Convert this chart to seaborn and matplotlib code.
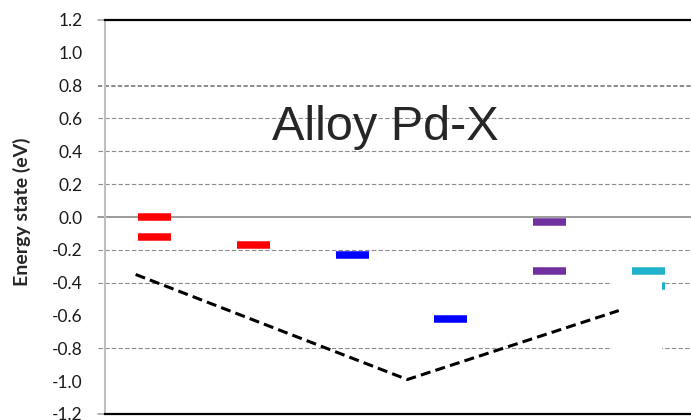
"""Energy state levels for alloy Pd-X."""

import matplotlib

matplotlib.use("Agg", force=True)

import matplotlib.pyplot as plt
import pandas as pd
import seaborn as sns
from matplotlib.patches import Rectangle

# level bars: category slot (0-based) and energy (eV)
red_slot = [0, 0, 1]
red_energy = [0.00, -0.12, -0.17]
blue_slot = [2, 3]
blue_energy = [-0.23, -0.62]
purple_slot = [4, 4]
purple_energy = [-0.03, -0.33]
cyan_slot = [5, 5]
cyan_energy = [-0.33, -0.42]

# dashed guide line
guide_x = [0.31, 3.06, 5.20]
guide_y = [-0.35, -0.99, -0.57]

y_ticks = [-1.2, -1.0, -0.8, -0.6, -0.4, -0.2, 0.0, 0.2, 0.4, 0.6, 0.8, 1.0, 1.2]
y_tick_labels = ["-1.2", "-1.0", "-0.8", "-0.6", "-0.4", "-0.2", "0.0",
                 "0.2", "0.4", "0.6", "0.8", "1.0", "1.2"]
dashed_levels = [0.6, 0.4, 0.2, -0.2, -0.4, -0.8]

sns.set_style("white")
plt.rcParams["font.family"] = ["Lato", "DejaVu Sans"]

fig = plt.figure(figsize=(6.91, 4.2), dpi=100)
ax = fig.add_axes([105 / 691, 6 / 420, 586 / 691, 394 / 420])

# grid-like reference lines (extend a little past the axis on the left)
for lvl in dashed_levels:
    ax.axhline(lvl, xmin=-0.012, color="#8c8c8c", lw=0.8,
               ls=(0, (4, 2)), clip_on=False, zorder=1)
ax.axhline(0.8, xmin=-0.012, color="#8a8a8a", lw=1.4,
           ls=(0, (2.2, 1.2)), clip_on=False, zorder=1)
ax.axhline(0.0, xmin=-0.012, color="#808080", lw=1.1, clip_on=False, zorder=1)
for lvl in (1.2, -1.2):
    ax.plot([-0.075, 0], [lvl, lvl], color="#a6a6a6", lw=1.2, clip_on=False)

half = 0.167
for slots, vals, col in [
    (red_slot, red_energy, "#ff0000"),
    (blue_slot, blue_energy, "#0000ff"),
    (purple_slot, purple_energy, "#7030a0"),
    (cyan_slot, cyan_energy, "#21b2cb"),
]:
    centers = [s + 0.5 for s in slots]
    ax.hlines(vals, [c - half for c in centers], [c + half for c in centers],
              colors=col, lw=5.4, zorder=2)

# white box left over in the original graphic
ax.add_patch(Rectangle((5.13, -1.1), 0.505, 0.728, facecolor="white",
                       edgecolor="none", zorder=3))

guide = pd.DataFrame({"x": guide_x, "y": guide_y})
sns.lineplot(data=guide, x="x", y="y", sort=False, color="black", lw=2.2,
             linestyle=(0, (3.3, 1.7)), ax=ax, zorder=4)

ax.text(0.478, 0.695, "Alloy Pd-X", transform=ax.transAxes, ha="center",
        va="baseline", fontsize=35, family=["Liberation Sans", "DejaVu Sans"])

ax.set_xlim(0, 5.931)
ax.set_ylim(-1.2, 1.2)
ax.set_xticks([])
ax.set_xlabel("")
ax.set_yticks(y_ticks)
ax.set_yticklabels(y_tick_labels)
ax.tick_params(axis="y", length=0, pad=16, labelsize=12.5, labelcolor="#1a1a1a")
ax.set_ylabel("Energy state (eV)", fontsize=14, fontweight="bold")
ax.yaxis.set_label_coords(-0.127, 0.514)

ax.spines["left"].set_color("#bfbfbf")
ax.spines["left"].set_linewidth(1.5)
for side in ("top", "bottom"):
    ax.spines[side].set_color("black")
    ax.spines[side].set_linewidth(1.6)
ax.spines["right"].set_visible(False)

fig.savefig("out.png", dpi=100)
plt.close(fig)
